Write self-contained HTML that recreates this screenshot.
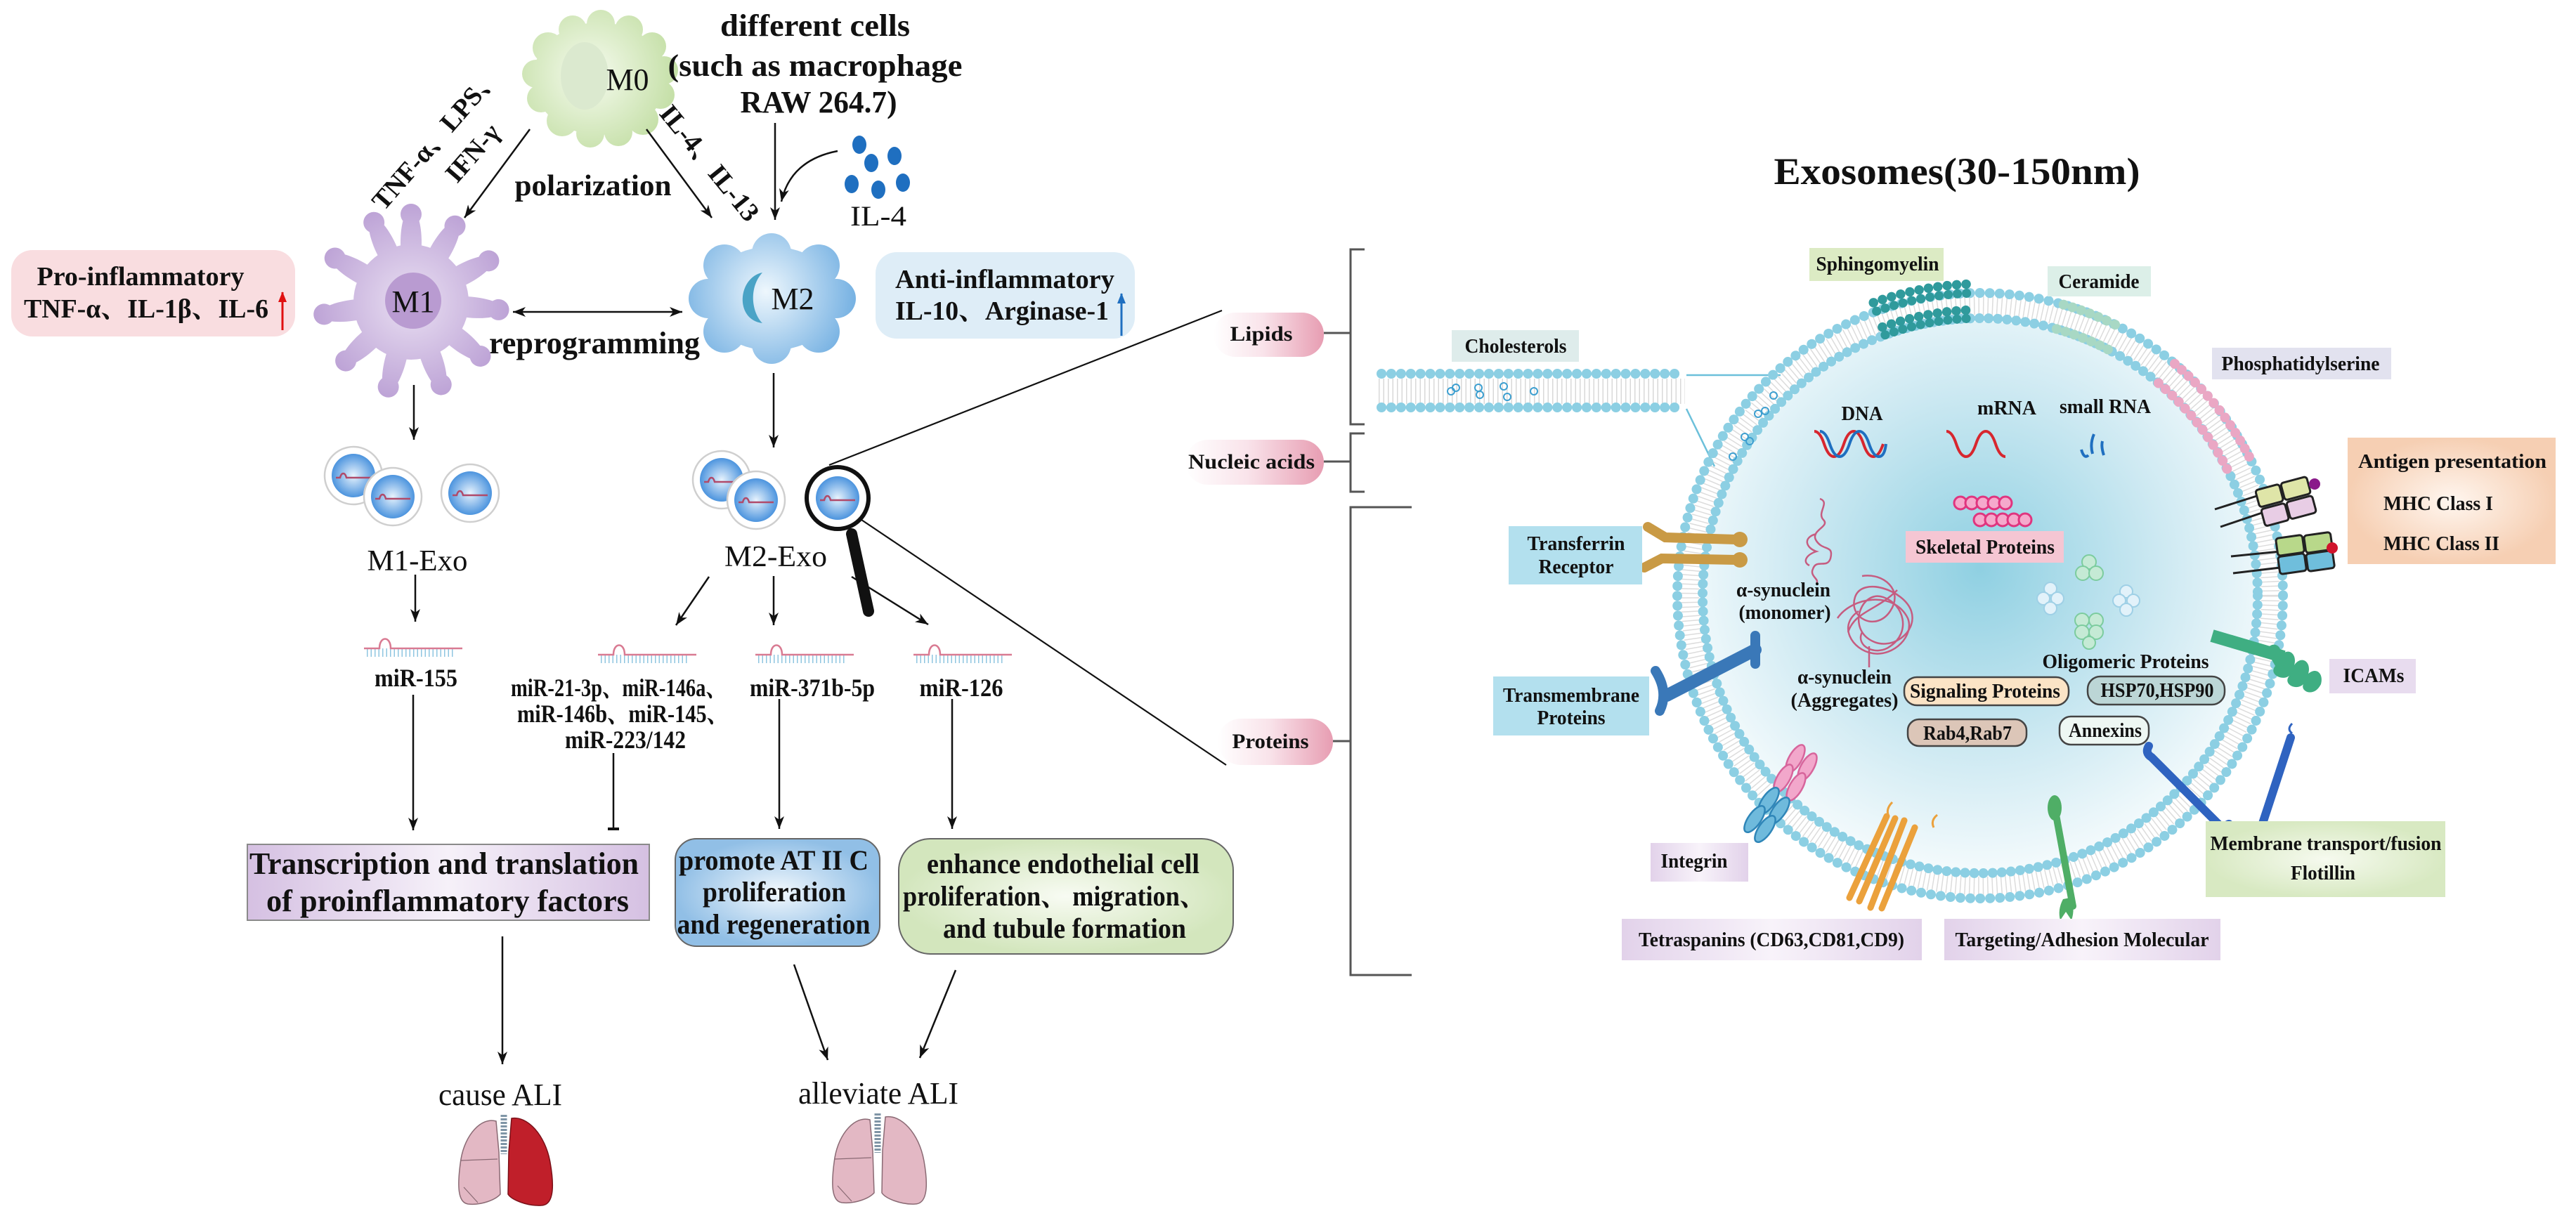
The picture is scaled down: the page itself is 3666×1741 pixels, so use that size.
<!DOCTYPE html>
<html><head><meta charset="utf-8"><style>
html,body{margin:0;padding:0;background:#fff}
svg{display:block}
text{font-family:"Liberation Serif","Noto Serif CJK SC",serif;fill:#111}
.b{font-weight:bold}
</style></head><body>
<svg width="3666" height="1741" viewBox="0 0 3666 1741" xmlns="http://www.w3.org/2000/svg">
<defs>
<marker id="ah" markerUnits="userSpaceOnUse" markerWidth="20" markerHeight="16" refX="18" refY="8" orient="auto"><path d="M0,1 L18,8 L0,15 L5,8 z" fill="#111"/></marker>
<marker id="ahs" markerUnits="userSpaceOnUse" markerWidth="20" markerHeight="16" refX="2" refY="8" orient="auto"><path d="M20,1 L2,8 L20,15 L15,8 z" fill="#111"/></marker>
<marker id="ahr" markerUnits="userSpaceOnUse" markerWidth="16" markerHeight="16" refX="14" refY="8" orient="auto"><path d="M0,2 L15,8 L0,14 z" fill="#e01010"/></marker>
<marker id="ahb" markerUnits="userSpaceOnUse" markerWidth="16" markerHeight="16" refX="14" refY="8" orient="auto"><path d="M0,2 L15,8 L0,14 z" fill="#1f6fc0"/></marker>
<radialGradient id="g0" gradientUnits="userSpaceOnUse" cx="840" cy="105" r="125"><stop offset="0" stop-color="#f6fbef"/><stop offset="1" stop-color="#c4dfa6"/></radialGradient>
<radialGradient id="g1" gradientUnits="userSpaceOnUse" cx="585" cy="430" r="140"><stop offset="0" stop-color="#e9dff2"/><stop offset="1" stop-color="#bda3d6"/></radialGradient>
<radialGradient id="g2" gradientUnits="userSpaceOnUse" cx="1090" cy="415" r="125"><stop offset="0" stop-color="#eef7fd"/><stop offset="1" stop-color="#79b3e3"/></radialGradient>
<radialGradient id="gex"><stop offset="0" stop-color="#e8f3fd"/><stop offset="1" stop-color="#4c94de"/></radialGradient>
<radialGradient id="gcell" cx="0.5" cy="0.45" r="0.55"><stop offset="0" stop-color="#8fd0e2"/><stop offset="0.6" stop-color="#cde9f2"/><stop offset="1" stop-color="#f3fafc"/></radialGradient>
<linearGradient id="gpur" x1="0" x2="1"><stop offset="0" stop-color="#d5c0e2"/><stop offset="0.5" stop-color="#f6f1f9"/><stop offset="1" stop-color="#d5c0e2"/></linearGradient>
<radialGradient id="gblu"><stop offset="0" stop-color="#f2f8fd"/><stop offset="1" stop-color="#91bfe6"/></radialGradient>
<radialGradient id="ggrn"><stop offset="0" stop-color="#f8fbf3"/><stop offset="1" stop-color="#d3e6bd"/></radialGradient>
<linearGradient id="gpill" x1="0" x2="1"><stop offset="0" stop-color="#fff"/><stop offset="0.45" stop-color="#f9e3ea"/><stop offset="1" stop-color="#e79db2"/></linearGradient>
<radialGradient id="gpeach"><stop offset="0" stop-color="#fff6ef"/><stop offset="1" stop-color="#f6cfb3"/></radialGradient>
<linearGradient id="glav" x1="0" x2="1"><stop offset="0" stop-color="#e2d2ea"/><stop offset="0.5" stop-color="#f8f3fa"/><stop offset="1" stop-color="#e2d2ea"/></linearGradient>
<radialGradient id="glgrn"><stop offset="0" stop-color="#f6faef"/><stop offset="1" stop-color="#d8e9c2"/></radialGradient>
</defs>

<!-- M0 -->
<g fill="url(#g0)">
<ellipse cx="853" cy="112" rx="95" ry="80"/>
<circle cx="945" cy="100" r="20"/><circle cx="940" cy="135" r="20"/><circle cx="915" cy="170" r="22"/><circle cx="880" cy="188" r="20"/><circle cx="840" cy="190" r="20"/><circle cx="800" cy="172" r="22"/>
<circle cx="770" cy="140" r="20"/><circle cx="763" cy="105" r="20"/><circle cx="780" cy="68" r="22"/><circle cx="815" cy="42" r="20"/><circle cx="855" cy="34" r="20"/><circle cx="895" cy="42" r="20"/><circle cx="928" cy="66" r="20"/>
</g>
<ellipse cx="832" cy="108" rx="34" ry="48" fill="#dbe9cf"/>
<text x="893" y="128" font-size="44" text-anchor="middle">M0</text>

<text class="b" x="1160" y="51" font-size="44" text-anchor="middle" textLength="270" lengthAdjust="spacingAndGlyphs">different cells</text>
<text class="b" x="1160" y="108" font-size="44" text-anchor="middle" textLength="419" lengthAdjust="spacingAndGlyphs">(such as macrophage</text>
<text class="b" x="1165" y="160" font-size="44" text-anchor="middle" textLength="223" lengthAdjust="spacingAndGlyphs">RAW 264.7)</text>

<g fill="#1f6fc0">
<ellipse cx="1223" cy="206" rx="10" ry="13"/><ellipse cx="1240" cy="232" rx="10" ry="13"/><ellipse cx="1273" cy="222" rx="10" ry="13"/>
<ellipse cx="1212" cy="262" rx="10" ry="13"/><ellipse cx="1250" cy="270" rx="10" ry="13"/><ellipse cx="1285" cy="260" rx="10" ry="13"/>
</g>
<text x="1250" y="321" font-size="40" text-anchor="middle" textLength="80" lengthAdjust="spacingAndGlyphs">IL-4</text>

<g stroke="#111" stroke-width="2.5" fill="none">
<line x1="754" y1="184" x2="661" y2="310" marker-end="url(#ah)"/>
<line x1="920" y1="184" x2="1013" y2="310" marker-end="url(#ah)"/>
<line x1="1103" y1="175" x2="1103" y2="313" marker-end="url(#ah)"/>
<path d="M1192,215 Q1125,228 1112,287" marker-end="url(#ah)"/>
<line x1="730" y1="444" x2="971" y2="444" marker-end="url(#ah)" marker-start="url(#ahs)"/>
</g>
<text class="b" transform="translate(630,205) rotate(-49)" font-size="38" text-anchor="middle">TNF-α、LPS、</text>
<text class="b" transform="translate(682,226) rotate(-49)" font-size="38" text-anchor="middle">IFN-γ</text>
<text class="b" transform="translate(1000,240) rotate(51)" font-size="38" text-anchor="middle">IL-4、IL-13</text>
<text class="b" x="844" y="278" font-size="42" text-anchor="middle" textLength="223" lengthAdjust="spacingAndGlyphs">polarization</text>
<text class="b" x="846" y="503" font-size="44" text-anchor="middle" textLength="300" lengthAdjust="spacingAndGlyphs">reprogramming</text>

<!-- M1 -->
<g fill="url(#g1)">
<circle cx="585" cy="430" r="82"/>
<g id="pod"><ellipse cx="585" cy="345" rx="15" ry="48"/><circle cx="585" cy="305" r="15"/></g>
<use href="#pod" transform="rotate(30 585 430)"/><use href="#pod" transform="rotate(62 585 430)"/><use href="#pod" transform="rotate(95 585 430)"/>
<use href="#pod" transform="rotate(128 585 430)"/><use href="#pod" transform="rotate(160 585 430)"/><use href="#pod" transform="rotate(195 585 430)"/>
<use href="#pod" transform="rotate(228 585 430)"/><use href="#pod" transform="rotate(262 585 430)"/><use href="#pod" transform="rotate(300 585 430)"/><use href="#pod" transform="rotate(335 585 430)"/>
</g>
<circle cx="588" cy="428" r="40" fill="#b99bd1"/>
<text x="588" y="444" font-size="44" text-anchor="middle">M1</text>

<!-- M2 -->
<g fill="url(#g2)">
<ellipse cx="1098" cy="425" rx="96" ry="74"/>
<circle cx="1190" cy="425" r="28"/><circle cx="1165" cy="472" r="30"/><circle cx="1098" cy="490" r="28"/><circle cx="1031" cy="472" r="30"/>
<circle cx="1008" cy="425" r="28"/><circle cx="1031" cy="378" r="30"/><circle cx="1098" cy="360" r="28"/><circle cx="1165" cy="378" r="30"/>
</g>
<path d="M1085,388 C1050,395 1045,455 1085,460 C1070,445 1065,410 1085,388 z" fill="#4aa3c6"/>
<text x="1128" y="440" font-size="44" text-anchor="middle">M2</text>

<rect x="16" y="356" width="404" height="123" rx="30" fill="#f9dde0"/>
<text class="b" x="200" y="406" font-size="38" text-anchor="middle" textLength="295" lengthAdjust="spacingAndGlyphs">Pro-inflammatory</text>
<text class="b" x="208" y="452" font-size="38" text-anchor="middle" textLength="348" lengthAdjust="spacingAndGlyphs">TNF-α、IL-1β、IL-6</text>
<line x1="402" y1="470" x2="402" y2="416" stroke="#e01010" stroke-width="3" marker-end="url(#ahr)"/>
<rect x="1246" y="359" width="369" height="123" rx="30" fill="#deedf7"/>
<text class="b" x="1430" y="410" font-size="38" text-anchor="middle" textLength="312" lengthAdjust="spacingAndGlyphs">Anti-inflammatory</text>
<text class="b" x="1426" y="455" font-size="38" text-anchor="middle" textLength="304" lengthAdjust="spacingAndGlyphs">IL-10、Arginase-1</text>
<line x1="1596" y1="478" x2="1596" y2="418" stroke="#1f6fc0" stroke-width="3" marker-end="url(#ahb)"/>

<g stroke="#111" stroke-width="2.5" fill="none">
<line x1="589" y1="548" x2="589" y2="626" marker-end="url(#ah)"/>
<line x1="1101" y1="531" x2="1101" y2="637" marker-end="url(#ah)"/>
</g>

<g id="ex1"><circle cx="503" cy="677" r="41" fill="#fff" stroke="#cfcfcf" stroke-width="2.5"/><circle cx="503" cy="677" r="31" fill="url(#gex)"/><path d="M478,680 h6 c2,-8 7,-8 9,0 h35" stroke="#b04a6a" stroke-width="2.5" fill="none"/></g>
<use href="#ex1" transform="translate(56,30)"/>
<use href="#ex1" transform="translate(166,25)"/>
<use href="#ex1" transform="translate(524,6)"/>
<use href="#ex1" transform="translate(573,35)"/>
<circle cx="1192" cy="709" r="44" fill="#fff" stroke="#111" stroke-width="6"/>
<circle cx="1192" cy="709" r="31" fill="url(#gex)"/>
<path d="M1167,712 h6 c2,-8 7,-8 9,0 h35" stroke="#b04a6a" stroke-width="2.5" fill="none"/>
<line x1="1212" y1="760" x2="1236" y2="870" stroke="#111" stroke-width="16" stroke-linecap="round"/>

<text x="594" y="812" font-size="42" text-anchor="middle" textLength="143" lengthAdjust="spacingAndGlyphs">M1-Exo</text>
<text x="1104" y="806" font-size="42" text-anchor="middle" textLength="146" lengthAdjust="spacingAndGlyphs">M2-Exo</text>

<g stroke="#111" stroke-width="2.2" fill="none">
<line x1="1180" y1="662" x2="1739" y2="442"/>
<line x1="1226" y1="740" x2="1745" y2="1089"/>
</g>

<g stroke="#111" stroke-width="2.5" fill="none">
<line x1="591" y1="818" x2="591" y2="885" marker-end="url(#ah)"/>
<line x1="1009" y1="821" x2="962" y2="890" marker-end="url(#ah)"/>
<line x1="1101" y1="820" x2="1101" y2="890" marker-end="url(#ah)"/>
<line x1="1212" y1="821" x2="1321" y2="889" marker-end="url(#ah)"/>
</g>

<g id="mi"><line x1="522" y1="929" x2="648" y2="929" stroke="#8fc6e0" stroke-width="12" stroke-dasharray="1.5 4"/><path d="M518,923 H540 C540,905 556,905 556,923 H658" stroke="#d97a92" stroke-width="2.5" fill="none"/></g>
<use href="#mi" transform="translate(333,9)"/>
<use href="#mi" transform="translate(557,9)"/>
<use href="#mi" transform="translate(782,9)"/>

<text class="b" x="592" y="977" font-size="36" text-anchor="middle" textLength="118" lengthAdjust="spacingAndGlyphs">miR-155</text>
<text class="b" x="880" y="991" font-size="36" text-anchor="middle" textLength="306" lengthAdjust="spacingAndGlyphs">miR-21-3p、miR-146a、</text>
<text class="b" x="886" y="1028" font-size="36" text-anchor="middle" textLength="300" lengthAdjust="spacingAndGlyphs">miR-146b、miR-145、</text>
<text class="b" x="890" y="1065" font-size="36" text-anchor="middle" textLength="172" lengthAdjust="spacingAndGlyphs">miR-223/142</text>
<text class="b" x="1156" y="991" font-size="36" text-anchor="middle" textLength="178" lengthAdjust="spacingAndGlyphs">miR-371b-5p</text>
<text class="b" x="1368" y="991" font-size="36" text-anchor="middle" textLength="119" lengthAdjust="spacingAndGlyphs">miR-126</text>

<g stroke="#111" stroke-width="2.5" fill="none">
<line x1="588" y1="989" x2="588" y2="1182" marker-end="url(#ah)"/>
<line x1="873" y1="1072" x2="873" y2="1180"/>
<line x1="865" y1="1180" x2="881" y2="1180" stroke-width="4"/>
<line x1="1109" y1="995" x2="1109" y2="1180" marker-end="url(#ah)"/>
<line x1="1355" y1="995" x2="1355" y2="1180" marker-end="url(#ah)"/>
</g>

<rect x="352" y="1202" width="572" height="108" fill="url(#gpur)" stroke="#8a8a8a" stroke-width="2"/>
<text class="b" x="632" y="1244" font-size="44" text-anchor="middle" textLength="554" lengthAdjust="spacingAndGlyphs">Transcription and translation</text>
<text class="b" x="637" y="1297" font-size="44" text-anchor="middle" textLength="516" lengthAdjust="spacingAndGlyphs">of proinflammatory factors</text>
<rect x="961" y="1194" width="291" height="153" rx="30" fill="url(#gblu)" stroke="#666" stroke-width="2"/>
<text class="b" x="1101" y="1238" font-size="40" text-anchor="middle" textLength="270" lengthAdjust="spacingAndGlyphs">promote AT II C</text>
<text class="b" x="1102" y="1283" font-size="40" text-anchor="middle" textLength="204" lengthAdjust="spacingAndGlyphs">proliferation</text>
<text class="b" x="1101" y="1329" font-size="40" text-anchor="middle" textLength="275" lengthAdjust="spacingAndGlyphs">and regeneration</text>
<rect x="1279" y="1194" width="476" height="164" rx="45" fill="url(#ggrn)" stroke="#666" stroke-width="2"/>
<text class="b" x="1513" y="1243" font-size="40" text-anchor="middle" textLength="388" lengthAdjust="spacingAndGlyphs">enhance endothelial cell</text>
<text class="b" x="1500" y="1289" font-size="40" text-anchor="middle" textLength="430" lengthAdjust="spacingAndGlyphs">proliferation、 migration、</text>
<text class="b" x="1515" y="1335" font-size="40" text-anchor="middle" textLength="346" lengthAdjust="spacingAndGlyphs">and tubule formation</text>

<g stroke="#111" stroke-width="2.5" fill="none">
<line x1="715" y1="1333" x2="715" y2="1515" marker-end="url(#ah)"/>
<line x1="1130" y1="1373" x2="1178" y2="1509" marker-end="url(#ah)"/>
<line x1="1360" y1="1381" x2="1309" y2="1506" marker-end="url(#ah)"/>
</g>
<text x="712" y="1573" font-size="44" text-anchor="middle" textLength="176" lengthAdjust="spacingAndGlyphs">cause ALI</text>
<text x="1250" y="1571" font-size="44" text-anchor="middle" textLength="228" lengthAdjust="spacingAndGlyphs">alleviate ALI</text>

<g id="lungL"><line x1="717" y1="1587" x2="717" y2="1643" stroke="#7f95a6" stroke-width="9" stroke-dasharray="3 2"/>
<path d="M706,1596 C685,1590 662,1615 656,1650 C650,1690 652,1712 666,1714 C685,1716 705,1708 712,1700 L710,1640 Z" fill="#e3b8c4" stroke="#8a6a74" stroke-width="1.5"/>
<path d="M656,1652 L708,1650 M660,1690 L680,1712" stroke="#8a6a74" stroke-width="1.2" fill="none"/></g>
<path d="M728,1592 C750,1588 776,1615 783,1655 C790,1695 786,1716 770,1716 C750,1717 728,1708 723,1700 L724,1640 Z" fill="#c01f2a" stroke="#7a1018" stroke-width="1.5"/>
<use href="#lungL" transform="translate(532,-2)"/>
<path d="M1260,1590 C1282,1586 1308,1613 1315,1653 C1322,1693 1318,1714 1302,1714 C1282,1715 1260,1706 1255,1698 L1256,1638 Z" fill="#e3b8c4" stroke="#8a6a74" stroke-width="1.5"/>

<!-- RIGHT PANEL -->
<text class="b" x="2785" y="262" font-size="54" text-anchor="middle" textLength="521" lengthAdjust="spacingAndGlyphs">Exosomes(30-150nm)</text>

<rect x="1727" y="445" width="157" height="63" rx="31" fill="url(#gpill)"/>
<text class="b" x="1795" y="485" font-size="30" text-anchor="middle" textLength="89" lengthAdjust="spacingAndGlyphs">Lipids</text>
<rect x="1687" y="626" width="197" height="64" rx="32" fill="url(#gpill)"/>
<text class="b" x="1781" y="667" font-size="30" text-anchor="middle" textLength="180" lengthAdjust="spacingAndGlyphs">Nucleic acids</text>
<rect x="1733" y="1023" width="164" height="66" rx="33" fill="url(#gpill)"/>
<text class="b" x="1808" y="1065" font-size="30" text-anchor="middle" textLength="109" lengthAdjust="spacingAndGlyphs">Proteins</text>

<g stroke="#555" stroke-width="3" fill="none">
<path d="M1942,355 H1922 V604 H1942"/><line x1="1884" y1="474" x2="1922" y2="474"/>
<path d="M1942,617 H1922 V700 H1942"/><line x1="1884" y1="657" x2="1922" y2="657"/>
<path d="M2009,722 H1922 V1388 H2009"/><line x1="1897" y1="1055" x2="1922" y2="1055"/>
</g>

<rect x="2066" y="470" width="181" height="45" fill="#deeceb"/>
<text class="b" x="2157" y="502" font-size="28" text-anchor="middle" textLength="145" lengthAdjust="spacingAndGlyphs">Cholesterols</text>
<line x1="1962" y1="557" x2="2398" y2="557" stroke="#d8d8d8" stroke-width="36" stroke-dasharray="1.5 5"/>
<line x1="1966" y1="532" x2="2396" y2="532" stroke="#8ccfe3" stroke-width="14" stroke-dasharray="0.1 13.8" stroke-linecap="round"/>
<line x1="1966" y1="580" x2="2396" y2="580" stroke="#8ccfe3" stroke-width="14" stroke-dasharray="0.1 13.8" stroke-linecap="round"/>
<g fill="none" stroke="#3d9fd0" stroke-width="2"><circle cx="2065" cy="557" r="5"/><circle cx="2072" cy="552" r="5"/><circle cx="2104" cy="552" r="5"/><circle cx="2106" cy="562" r="5"/><circle cx="2140" cy="550" r="5"/><circle cx="2145" cy="565" r="5"/><circle cx="2183" cy="557" r="5"/></g>
<g stroke="#6cc0da" stroke-width="2.5"><line x1="2400" y1="534" x2="2534" y2="534"/><line x1="2400" y1="582" x2="2440" y2="664"/></g>

<circle cx="2818" cy="848" r="390" fill="url(#gcell)"/>
<circle cx="2818" cy="848" r="413" fill="none" stroke="#dcdcdc" stroke-width="26" stroke-dasharray="1.5 5"/>
<circle cx="2818" cy="848" r="431" fill="none" stroke="#8ccfe3" stroke-width="14" stroke-dasharray="0.1 14" stroke-linecap="round"/>
<circle cx="2818" cy="848" r="395" fill="none" stroke="#8ccfe3" stroke-width="14" stroke-dasharray="0.1 13" stroke-linecap="round"/>
<g fill="none" stroke-linecap="round" stroke-dasharray="0.1 13">
<g id="sph" stroke="#2f9a9c" stroke-width="13">
<path d="M2670.6,443 A431,431 0 0 1 2803,417.3"/>
<path d="M2682.9,476.8 A395,395 0 0 1 2804.2,453.2"/>
</g>
<use href="#sph" transform="translate(2818,848) scale(1.03) translate(-2818,-848)"/>
<path d="M2936.8,433.7 A431,431 0 0 1 3020.4,467.5" stroke="#a8d8c4" stroke-width="14"/>
<path d="M2926.9,468.3 A395,395 0 0 1 3003.5,499.3" stroke="#a8d8c4" stroke-width="14"/>
<path d="M3095,517.9 A431,431 0 0 1 3202,652.3" stroke="#eaa7c4" stroke-width="14"/>
<path d="M3071.9,545.4 A395,395 0 0 1 3170,668.7" stroke="#eaa7c4" stroke-width="14"/>
</g>
<g fill="none" stroke="#3d9fd0" stroke-width="2"><circle cx="2524" cy="563" r="5"/><circle cx="2502" cy="589" r="5"/><circle cx="2512" cy="585" r="5"/><circle cx="2483" cy="622" r="5"/><circle cx="2490" cy="628" r="5"/><circle cx="2466" cy="650" r="5"/></g>

<rect x="2575" y="353" width="191" height="47" fill="#dcebc4"/>
<text class="b" x="2672" y="385" font-size="28" text-anchor="middle" textLength="175" lengthAdjust="spacingAndGlyphs">Sphingomyelin</text>
<rect x="2914" y="379" width="147" height="43" fill="#dcefe8"/>
<text class="b" x="2987" y="410" font-size="28" text-anchor="middle" textLength="115" lengthAdjust="spacingAndGlyphs">Ceramide</text>
<rect x="3148" y="495" width="255" height="45" fill="#e2e2ef"/>
<text class="b" x="3274" y="527" font-size="28" text-anchor="middle" textLength="225" lengthAdjust="spacingAndGlyphs">Phosphatidylserine</text>

<text class="b" x="2650" y="598" font-size="28" text-anchor="middle" textLength="59" lengthAdjust="spacingAndGlyphs">DNA</text>
<text class="b" x="2856" y="590" font-size="28" text-anchor="middle" textLength="84" lengthAdjust="spacingAndGlyphs">mRNA</text>
<text class="b" x="2996" y="588" font-size="28" text-anchor="middle" textLength="130" lengthAdjust="spacingAndGlyphs">small RNA</text>
<g fill="none" stroke-width="4">
<path d="M2582,614 q8,0 14,18 t14,18 t14,-18 t14,-18 t14,18 t14,18 t14,-18" stroke="#d7262e"/>
<path d="M2590,614 q8,0 14,18 t14,18 t14,-18 t14,-18 t14,18 t14,18 t10,-18" stroke="#1f6fc0"/>
<path d="M2770,614 q8,0 14,18 t14,18 t14,-18 t14,-18 t14,18 t14,18" stroke="#d7262e"/>
<path d="M2962,640 q4,14 10,8 M2980,618 q-6,14 -2,28 M2992,628 q-2,8 2,20" stroke="#1f6fc0"/>
</g>

<g fill="#f5a9cc" stroke="#e0357f" stroke-width="3">
<circle cx="2790" cy="716" r="9"/><circle cx="2806" cy="716" r="9"/><circle cx="2822" cy="716" r="9"/><circle cx="2838" cy="716" r="9"/><circle cx="2854" cy="716" r="9"/>
<circle cx="2818" cy="740" r="9"/><circle cx="2834" cy="740" r="9"/><circle cx="2850" cy="740" r="9"/><circle cx="2866" cy="740" r="9"/><circle cx="2882" cy="740" r="9"/>
</g>
<rect x="2712" y="756" width="225" height="45" fill="#f5c6d3"/>
<text class="b" x="2825" y="788" font-size="28" text-anchor="middle" textLength="198" lengthAdjust="spacingAndGlyphs">Skeletal Proteins</text>

<path d="M2590,710 c15,5 -5,20 5,30 c10,10 -20,15 -10,30 c10,15 25,5 20,25 c-5,15 -20,0 -25,15 c-5,10 10,15 5,20 M2585,760 c-20,5 -15,20 0,25 c-15,5 -20,15 -10,20" fill="none" stroke="#c65c80" stroke-width="2.5"/>
<g fill="none" stroke="#c65c80" stroke-width="2.5">
<path d="M2650,820 c30,-5 60,20 40,50 c-20,30 -60,10 -50,-20 c10,-30 70,-10 80,20 c10,30 -30,60 -60,40 c-30,-20 -10,-70 20,-60 c30,10 40,50 10,70 c-20,15 -50,0 -40,-20"/>
<path d="M2615,880 c20,-30 80,-40 100,0 c10,25 -20,55 -50,50 c-30,-5 -50,-40 -20,-60 M2660,950 l0,-30 M2700,840 c-30,30 -60,30 -70,60"/>
</g>
<text class="b" x="2538" y="849" font-size="28" text-anchor="middle" textLength="134" lengthAdjust="spacingAndGlyphs">α-synuclein</text>
<text class="b" x="2540" y="881" font-size="28" text-anchor="middle" textLength="131" lengthAdjust="spacingAndGlyphs">(monomer)</text>
<text class="b" x="2625" y="973" font-size="28" text-anchor="middle" textLength="134" lengthAdjust="spacingAndGlyphs">α-synuclein</text>
<text class="b" x="2625" y="1006" font-size="28" text-anchor="middle" textLength="153" lengthAdjust="spacingAndGlyphs">(Aggregates)</text>

<g fill="#c5ead5" stroke="#7ccc9e" stroke-width="2">
<circle cx="2973" cy="800" r="10"/><circle cx="2964" cy="816" r="10"/><circle cx="2983" cy="816" r="10"/>
<circle cx="2963" cy="883" r="10"/><circle cx="2983" cy="883" r="10"/><circle cx="2963" cy="900" r="10"/><circle cx="2983" cy="900" r="10"/><circle cx="2973" cy="915" r="9"/>
</g>
<g fill="#e2f2fa" stroke="#9fd0e6" stroke-width="2">
<circle cx="2918" cy="838" r="9"/><circle cx="2908" cy="852" r="9"/><circle cx="2928" cy="852" r="9"/><circle cx="2918" cy="866" r="9"/>
<circle cx="3026" cy="842" r="9"/><circle cx="3016" cy="855" r="9"/><circle cx="3036" cy="855" r="9"/><circle cx="3026" cy="868" r="9"/>
</g>
<text class="b" x="3025" y="951" font-size="28" text-anchor="middle" textLength="237" lengthAdjust="spacingAndGlyphs">Oligomeric Proteins</text>

<rect x="2710" y="964" width="234" height="40" rx="18" fill="#fbe4c6" stroke="#444" stroke-width="2.5"/>
<text class="b" x="2825" y="993" font-size="28" text-anchor="middle" textLength="214" lengthAdjust="spacingAndGlyphs">Signaling Proteins</text>
<rect x="2971" y="963" width="195" height="40" rx="18" fill="#bcd6d6" stroke="#444" stroke-width="2.5"/>
<text class="b" x="3070" y="992" font-size="28" text-anchor="middle" textLength="161" lengthAdjust="spacingAndGlyphs">HSP70,HSP90</text>
<rect x="2715" y="1024" width="169" height="38" rx="16" fill="#dcc6b8" stroke="#444" stroke-width="2.5"/>
<text class="b" x="2800" y="1053" font-size="28" text-anchor="middle" textLength="126" lengthAdjust="spacingAndGlyphs">Rab4,Rab7</text>
<rect x="2931" y="1020" width="127" height="40" rx="16" fill="#eef7f3" stroke="#444" stroke-width="2.5"/>
<text class="b" x="2996" y="1049" font-size="28" text-anchor="middle" textLength="104" lengthAdjust="spacingAndGlyphs">Annexins</text>

<g stroke="#c99a45" stroke-width="14" stroke-linecap="round" fill="none">
<path d="M2345,750 L2370,765 L2470,768"/><path d="M2340,808 L2365,795 L2470,797"/>
</g>
<circle cx="2476" cy="768" r="11" fill="#c99a45"/><circle cx="2476" cy="797" r="11" fill="#c99a45"/>
<line x1="2372" y1="990" x2="2498" y2="925" stroke="#3a78b8" stroke-width="18" stroke-linecap="round"/>
<line x1="2498" y1="905" x2="2498" y2="945" stroke="#3a78b8" stroke-width="14" stroke-linecap="round"/>
<path d="M2356,955 Q2375,985 2362,1012" stroke="#3a78b8" stroke-width="14" fill="none" stroke-linecap="round"/>

<g stroke="#222" stroke-width="3">
<line x1="3152" y1="725" x2="3215" y2="705"/><line x1="3160" y1="750" x2="3225" y2="728"/>
<line x1="3175" y1="792" x2="3245" y2="785"/><line x1="3178" y1="816" x2="3245" y2="808"/>
<rect x="3212" y="693" width="35" height="25" rx="4" fill="#dfe5a8" transform="rotate(-15 3230 705)"/>
<rect x="3248" y="683" width="38" height="25" rx="4" fill="#dfe5a8" transform="rotate(-15 3266 695)"/>
<rect x="3220" y="720" width="35" height="25" rx="4" fill="#e8cde5" transform="rotate(-15 3238 732)"/>
<rect x="3256" y="710" width="38" height="25" rx="4" fill="#e8cde5" transform="rotate(-15 3274 722)"/>
<rect x="3240" y="764" width="38" height="25" rx="4" fill="#b8d88a" transform="rotate(-8 3258 776)"/>
<rect x="3280" y="760" width="38" height="25" rx="4" fill="#b8d88a" transform="rotate(-8 3298 772)"/>
<rect x="3243" y="790" width="38" height="25" rx="4" fill="#6fbedc" transform="rotate(-8 3262 802)"/>
<rect x="3283" y="786" width="38" height="25" rx="4" fill="#6fbedc" transform="rotate(-8 3302 798)"/>
</g>
<circle cx="3294" cy="689" r="8" fill="#8a1a8a"/><circle cx="3319" cy="780" r="8" fill="#d0142c"/>
<rect x="3341" y="623" width="296" height="180" fill="url(#gpeach)"/>
<text class="b" x="3490" y="666" font-size="28" text-anchor="middle" textLength="268" lengthAdjust="spacingAndGlyphs">Antigen presentation</text>
<text class="b" x="3392" y="726" font-size="28" textLength="156" lengthAdjust="spacingAndGlyphs">MHC Class I</text>
<text class="b" x="3392" y="783" font-size="28" textLength="165" lengthAdjust="spacingAndGlyphs">MHC Class II</text>

<line x1="3148" y1="905" x2="3250" y2="935" stroke="#3fae82" stroke-width="18"/>
<path d="M3225,925 c10,-15 25,-5 20,10 c10,-15 25,-5 20,12 c10,-15 25,-5 20,12 c12,-10 22,0 18,15 c-10,20 -30,10 -25,0 c-10,10 -30,0 -20,-12 c-10,8 -30,-2 -20,-14 z" fill="#3fae82"/>
<rect x="3315" y="938" width="123" height="49" fill="#e8dcef"/>
<text class="b" x="3378" y="971" font-size="28" text-anchor="middle" textLength="87" lengthAdjust="spacingAndGlyphs">ICAMs</text>

<path d="M3058,1062 q-6,10 4,16 l100,100 l10,-5" fill="none" stroke="#2f63c0" stroke-width="12" stroke-linecap="round"/>
<path d="M3260,1050 l-40,122" fill="none" stroke="#2f63c0" stroke-width="12" stroke-linecap="round"/>
<path d="M3262,1030 q-8,8 0,14" fill="none" stroke="#2f63c0" stroke-width="3"/>
<rect x="3139" y="1169" width="341" height="108" fill="url(#glgrn)"/>
<text class="b" x="3310" y="1210" font-size="28" text-anchor="middle" textLength="329" lengthAdjust="spacingAndGlyphs">Membrane transport/fusion</text>
<text class="b" x="3306" y="1252" font-size="28" text-anchor="middle" textLength="92" lengthAdjust="spacingAndGlyphs">Flotillin</text>

<g stroke="#d7659c" stroke-width="2.5" fill="#f2a7cb">
<ellipse cx="2555" cy="1080" rx="9" ry="22" transform="rotate(30 2555 1080)"/><ellipse cx="2572" cy="1092" rx="9" ry="22" transform="rotate(30 2572 1092)"/>
<ellipse cx="2538" cy="1108" rx="9" ry="22" transform="rotate(30 2538 1108)"/><ellipse cx="2556" cy="1120" rx="9" ry="22" transform="rotate(30 2556 1120)"/>
</g>
<g stroke="#2f86b8" stroke-width="2.5" fill="#6fbadc">
<ellipse cx="2517" cy="1140" rx="9" ry="22" transform="rotate(35 2517 1140)"/><ellipse cx="2532" cy="1154" rx="9" ry="22" transform="rotate(35 2532 1154)"/>
<ellipse cx="2497" cy="1166" rx="9" ry="22" transform="rotate(35 2497 1166)"/><ellipse cx="2512" cy="1180" rx="9" ry="22" transform="rotate(35 2512 1180)"/>
</g>
<rect x="2349" y="1200" width="139" height="55" fill="url(#glav)"/>
<text class="b" x="2411" y="1235" font-size="28" text-anchor="middle" textLength="95" lengthAdjust="spacingAndGlyphs">Integrin</text>

<g stroke="#eba13c" stroke-width="9" stroke-linecap="round">
<line x1="2685" y1="1162" x2="2632" y2="1278"/><line x1="2697" y1="1165" x2="2646" y2="1283"/>
<line x1="2710" y1="1168" x2="2662" y2="1292"/><line x1="2725" y1="1178" x2="2678" y2="1293"/>
</g>
<path d="M2688,1162 q-5,-10 5,-20 M2752,1178 q-5,-10 5,-18" stroke="#eba13c" stroke-width="3" fill="none"/>
<rect x="2308" y="1308" width="427" height="59" fill="url(#glav)"/>
<text class="b" x="2521" y="1347" font-size="28" text-anchor="middle" textLength="378" lengthAdjust="spacingAndGlyphs">Tetraspanins (CD63,CD81,CD9)</text>

<line x1="2926" y1="1160" x2="2950" y2="1290" stroke="#4fae66" stroke-width="10" stroke-linecap="round"/>
<ellipse cx="2924" cy="1150" rx="10" ry="18" fill="#4fae66"/>
<path d="M2936,1280 q-8,15 -4,30 l8,-12 l8,12 q6,-18 -2,-32 z" fill="#4fae66"/>
<rect x="2767" y="1308" width="393" height="59" fill="url(#glav)"/>
<text class="b" x="2963" y="1347" font-size="28" text-anchor="middle" textLength="361" lengthAdjust="spacingAndGlyphs">Targeting/Adhesion Molecular</text>

<rect x="2147" y="749" width="190" height="83" fill="#b3e0ee"/>
<text class="b" x="2243" y="783" font-size="28" text-anchor="middle" textLength="139" lengthAdjust="spacingAndGlyphs">Transferrin</text>
<text class="b" x="2243" y="816" font-size="28" text-anchor="middle" textLength="107" lengthAdjust="spacingAndGlyphs">Receptor</text>
<rect x="2125" y="963" width="222" height="84" fill="#b3e0ee"/>
<text class="b" x="2236" y="999" font-size="28" text-anchor="middle" textLength="194" lengthAdjust="spacingAndGlyphs">Transmembrane</text>
<text class="b" x="2236" y="1031" font-size="28" text-anchor="middle" textLength="97" lengthAdjust="spacingAndGlyphs">Proteins</text>
</svg>
</body></html>
